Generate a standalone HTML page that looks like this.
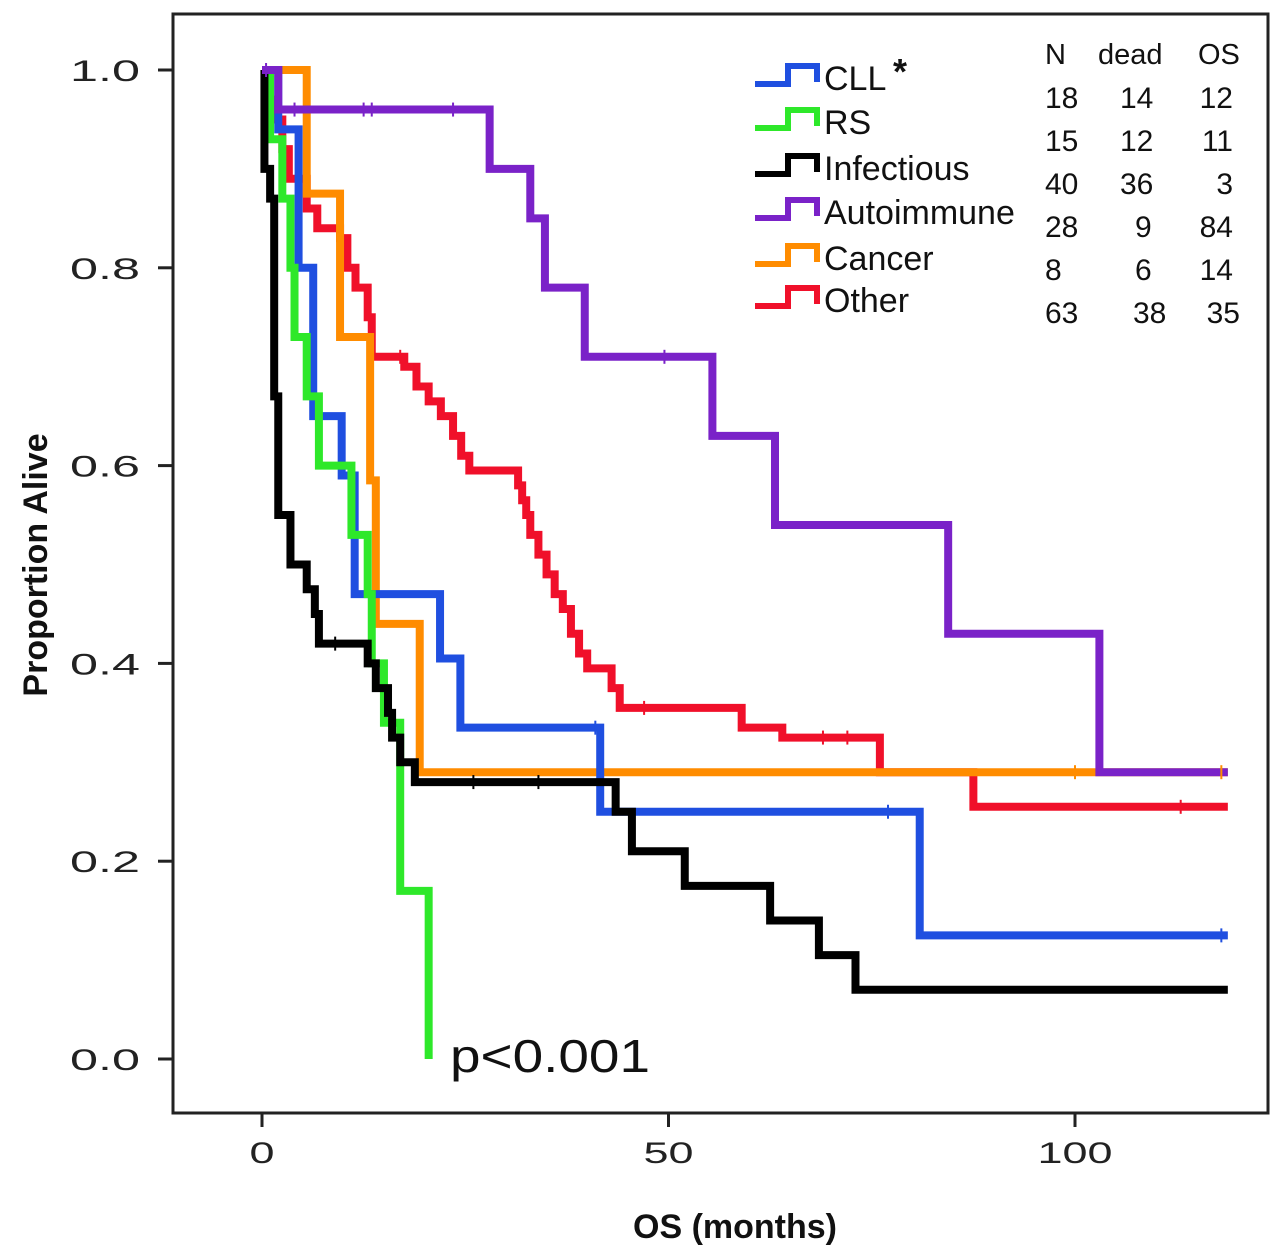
<!DOCTYPE html>
<html><head><meta charset="utf-8"><style>
html,body{margin:0;padding:0;background:#fff;}
svg{display:block;font-family:"Liberation Sans",sans-serif;}
</style></head><body>
<svg id="chart" width="1280" height="1259" viewBox="0 0 1280 1259">
<rect x="173" y="14" width="1095" height="1099" fill="none" stroke="#222" stroke-width="3"/>
<g id="axes"></g>
<g id="series"></g>
<text x="450" y="1072" font-size="46" textLength="200" lengthAdjust="spacingAndGlyphs" fill="#111">p&lt;0.001</text>
<text x="735" y="1238" font-size="34" font-weight="bold" text-anchor="middle" fill="#111">OS (months)</text>
<text transform="translate(47,565) rotate(-90)" font-size="34" font-weight="bold" text-anchor="middle" fill="#111">Proportion Alive</text>
<g id="legend" font-size="34" fill="#111"></g>
<g id="table" font-size="30" fill="#111"></g>
</svg>
<script>
const xTicks=[0,50,100];
const yTicks=[0,0.2,0.4,0.6,0.8,1.0];
const yTickLabels=["0.0","0.2","0.4","0.6","0.8","1.0"];
const names=["CLL","RS","Infectious","Autoimmune","Cancer","Other"];
const colors=["#1f4fe0","#2ee82a","#000000","#7a22c8","#ff8c00","#f0102a"];
const cllT=[0,2,4.5,6.3,9.8,11.4,21.9,24.4,41.6,80.9];
const cllS=[1,0.94,0.80,0.65,0.59,0.47,0.405,0.335,0.25,0.125];
const rsT=[0,1,2.5,3.5,4,5.5,7,11,13,13.5,15,17,20.5];
const rsS=[1,0.93,0.87,0.8,0.73,0.67,0.6,0.53,0.47,0.4,0.34,0.17,0];
const infT=[0,0.3,1,1.5,2,3.5,5.5,6.5,7,13,14,15.5,16,17,18.8,43.5,45.5,52,62.5,68.5,73];
const infS=[1,0.9,0.87,0.67,0.55,0.5,0.475,0.45,0.42,0.4,0.375,0.35,0.325,0.3,0.28,0.25,0.21,0.175,0.14,0.105,0.07];
const autT=[0,2,28,33,34.8,39.7,55.4,63.1,84.4,103];
const autS=[1,0.96,0.90,0.85,0.78,0.71,0.63,0.54,0.43,0.29];
const canT=[0,5.5,9.6,13.3,14,19.4];
const canS=[1,0.875,0.73,0.585,0.44,0.29];
const othT=[0,0.5,1.5,2.5,3.3,5.5,6.8,9.6,10.5,11.5,13,13.5,17.5,19,20.5,22,23.5,24.5,25.5,31.5,32,32.5,33,34,35,36,37,38,39,40,43,44,59,64,76,87.5];
const othS=[1,0.97,0.95,0.92,0.89,0.86,0.84,0.83,0.80,0.78,0.75,0.71,0.70,0.68,0.665,0.65,0.63,0.61,0.595,0.58,0.565,0.55,0.53,0.51,0.49,0.47,0.455,0.43,0.41,0.395,0.375,0.355,0.335,0.325,0.29,0.255];
const allT=[cllT,rsT,infT,autT,canT,othT];
const allS=[cllS,rsS,infS,autS,canS,othS];
const endT=[118.8,20.5,118.8,118.8,118.8,118.8];
const censorSeries=[3,3,3,3,3,3,0,0,0,4,4,5,5,5,5,5,2,2,2];
const censorT=[0.5,4,12.5,13.5,23.5,49.5,41,77,118,100,118,17,47,69,72,113,9,26,34];
const censorS=[1,0.96,0.96,0.96,0.96,0.71,0.335,0.25,0.125,0.29,0.29,0.71,0.355,0.325,0.325,0.255,0.42,0.28,0.28];
const tableHead=["N","dead","OS"];
const tN=["18","15","40","28","8","63"];
const tDead=["14","12","36","9","6","38"];
const tOS=["12","11","3","84","14","35"];

const NS="http://www.w3.org/2000/svg";
function X(t){return 262+t*8.13;}
function Y(s){return 1059-s*989;}
function mk(tag,attrs,parent){const e=document.createElementNS(NS,tag);for(const k in attrs)e.setAttribute(k,attrs[k]);parent.appendChild(e);return e;}
const axes=document.getElementById('axes');
xTicks.forEach((v,i)=>{
  const l=mk('line',{x1:X(v),x2:X(v),y1:1113,y2:1127,stroke:'#222','stroke-width':3},axes);
  
  
  const s=String(v);
  const t=mk('text',{x:X(v),y:1163,'font-size':30,'text-anchor':'middle',fill:'#222',textLength:s.length*25,lengthAdjust:'spacingAndGlyphs'},axes);
  
  
  t.textContent=s;
});
yTicks.forEach((v,i)=>{
  const l=mk('line',{x1:158,x2:173,y1:Y(v),y2:Y(v),stroke:'#222','stroke-width':3},axes);
  
  
  const t=mk('text',{x:70,y:Y(v)+11,'font-size':30,fill:'#222',textLength:70,lengthAdjust:'spacingAndGlyphs'},axes);
  
  
  t.textContent=yTickLabels[i];
});
const sg=document.getElementById('series');
const order=[5,4,0,1,2,3];
order.forEach(i=>{
  const T=allT[i],S=allS[i];
  let d='M'+X(T[0])+','+Y(S[0]);
  for(let k=1;k<T.length;k++){d+=' H'+X(T[k])+' V'+Y(S[k]);}
  if(endT[i]>T[T.length-1]) d+=' H'+X(endT[i]);
  const p=mk('path',{d:d,fill:'none',stroke:colors[i],'stroke-width':8,'stroke-linejoin':'miter'},sg);
  
  
});
censorT.forEach((t,k)=>{
  const c=mk('line',{x1:X(t),x2:X(t),y1:Y(censorS[k])-7,y2:Y(censorS[k])+7,stroke:colors[censorSeries[k]],'stroke-width':2},sg);
  
  
});
const lg=document.getElementById('legend');
const rowsY=[78,122,168,212,258,300];
names.forEach((n,i)=>{
  const y=rowsY[i];
  const p=mk('path',{d:`M755,${y+6} H788 V${y-12} H817 V${y+4}`,fill:'none',stroke:colors[i],'stroke-width':6},lg);
  
  
  const t=mk('text',{x:824,y:y+12},lg);
  
  
  t.textContent=n;
});
const star=mk('text',{x:893,y:84,'font-size':36,'font-weight':'bold'},lg);


star.textContent='*';
const tb=document.getElementById('table');
[1045,1098,1198].forEach((x,j)=>{
  const t=mk('text',{x:x,y:64,'font-size':29},tb);
  
  
  t.textContent=tableHead[j];
});
[tN,tDead,tOS].forEach((col,j)=>{
  col.forEach((v,i)=>{
    let x,anchor='start';
    if(j==0){x=1045;}
    else if(j==1){x=1120+(v.length==1?15:0); if(i==5)x=1133;}
    else {x=1233;anchor='end';if(i==5)x=1240;}
    const t=mk('text',{x:x,y:108+i*43,'text-anchor':anchor},tb);
    
    
    t.textContent=v;
  });
});
</script>
</body></html>
